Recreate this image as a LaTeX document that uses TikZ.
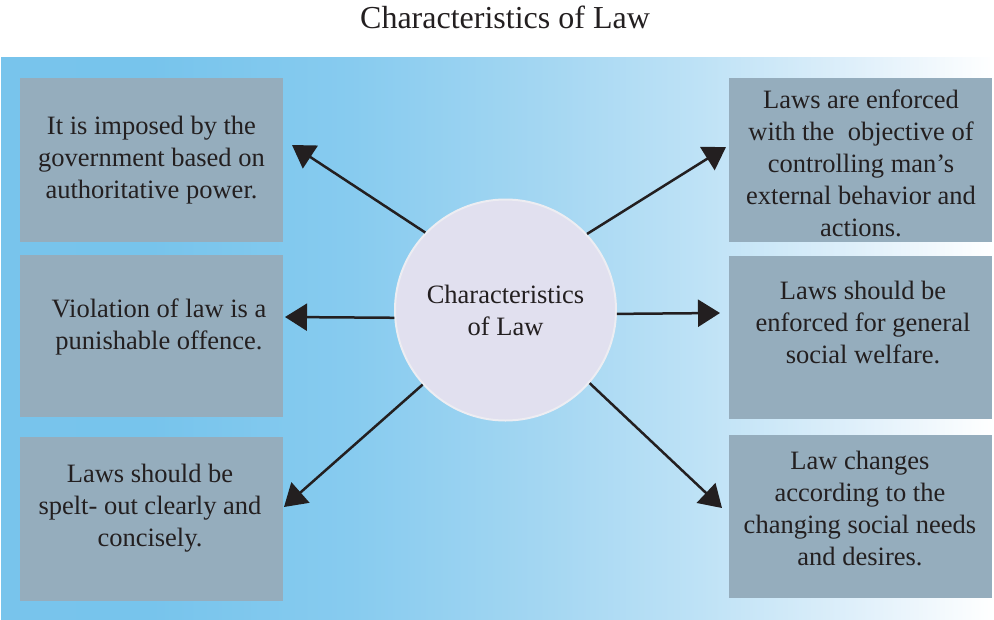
\documentclass[tikz,border=0pt]{standalone}
\usepackage{fontspec}
\setmainfont{Liberation Serif}
\usetikzlibrary{arrows.meta}

\definecolor{ink}{HTML}{231F20}
\definecolor{boxfill}{HTML}{95ADBD}
\definecolor{hubfill}{HTML}{E1E0EF}
\definecolor{hubline}{HTML}{EDEDF2}
\definecolor{skyA}{RGB}{120,196,236}
\definecolor{skyB}{RGB}{119,196,236}
\definecolor{skyC}{RGB}{135,203,239}
\definecolor{skyD}{RGB}{165,215,242}
\definecolor{skyE}{RGB}{190,226,246}
\definecolor{skyF}{RGB}{222,239,250}

% left-to-right fade of the panel; the visible part runs from 25bp to 75bp
\pgfdeclarehorizontalshading{skyfade}{100bp}{%
  color(0bp)=(skyA); color(25bp)=(skyA); color(32.5bp)=(skyB);
  color(42.6bp)=(skyC); color(52.7bp)=(skyD); color(60.2bp)=(skyE);
  color(67.8bp)=(skyF); color(75bp)=(white); color(100bp)=(white)}

\begin{document}
\begin{tikzpicture}[x=1pt,y=-1pt,
  box/.style={fill=boxfill, minimum width=263pt, inner sep=0pt, anchor=north west},
  txt/.style={text=ink, align=center, inner sep=0pt, font=\fontsize{26.5}{32}\selectfont},
  hub/.style={circle, fill=hubfill, draw=hubline, line width=2pt, minimum size=221pt,
    inner sep=0pt, text=ink, align=center, font=\fontsize{26.5}{32}\selectfont},
  link/.style={draw=ink, line width=2.5pt, -{Triangle[length=22pt,width=27pt]}}]

\useasboundingbox (0,0) rectangle (994,619);

% title and panel
\node[text=ink, inner sep=0pt, font=\fontsize{32}{38}\selectfont] (title) at (505,17) {Characteristics of Law};
\fill[shading=skyfade] (1,57) rectangle (994,619);

% boxes
\node[box, minimum height=164pt] (l1) at (20,78) {};
\node[box, minimum height=162pt] (l2) at (20,255) {};
\node[box, minimum height=164pt] (l3) at (20,437) {};
\node[box, minimum height=164pt] (r1) at (729,78) {};
\node[box, minimum height=163pt] (r2) at (729,256) {};
\node[box, minimum height=163pt] (r3) at (729,435) {};

% box texts
\node[txt] (l1t) at (151.5,160) {It is imposed by the\\government based on\\authoritative power.};
\node[txt] (l2t) at (159,327) {Violation of law is a\\punishable offence.};
\node[txt] (l3t) at (150,508) {Laws should be\\spelt- out clearly and\\concisely.};
\node[txt] (r1t) at (861,163) {Laws are enforced\\with the\ \ objective of\\controlling man’s\\external behavior and\\actions.};
\node[txt] (r2t) at (863,322) {Laws should be\\enforced for general\\social welfare.};
\node[txt] (r3t) at (860,508.5) {Law changes\\according to the\\changing social needs\\and desires.};

% centre
\node[hub] (hub) at (505.5,310) {Characteristics\\of Law};

% arrow tips
\coordinate (p1) at (292,145);
\coordinate (p2) at (285,317);
\coordinate (p3) at (284,507);
\coordinate (p4) at (726,147);
\coordinate (p5) at (720,313);
\coordinate (p6) at (722,508);

\draw[link] (hub.136) -- (p1);
\draw[link] (hub.184) -- (p2);
\draw[link] (hub.222) -- (p3);
\draw[link] (hub.43) -- (p4);
\draw[link] (hub.358) -- (p5);
\draw[link] (hub.319) -- (p6);
\end{tikzpicture}
\end{document}
